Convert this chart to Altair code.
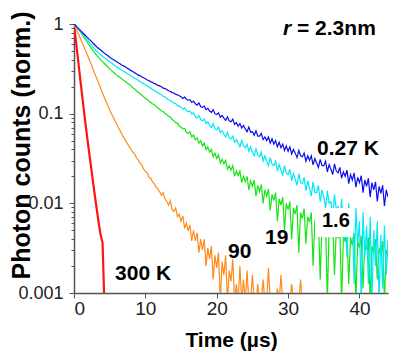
import altair as alt
import pandas as pd

# Sampling step of the decay traces (µs)
STEP = 0.25

# log10 of normalized photon counts (one value per 0.25 µs)
LOG_027K = [
    0, -.02, -.04, -.06, -.08, -.10, -.12, -.14, -.16, -.18, -.20, -.22,
    -.24, -.26, -.275, -.29, -.31, -.325, -.34, -.355, -.37, -.385, -.395, -.41,
    -.42, -.435, -.445, -.46, -.47, -.48, -.495, -.505, -.52, -.53, -.545, -.555,
    -.57, -.575, -.59, -.60, -.61, -.625, -.63, -.645, -.65, -.665, -.67, -.685,
    -.69, -.70, -.715, -.72, -.73, -.745, -.75, -.765, -.77, -.785, -.79, -.80,
    -.81, -.83, -.815, -.84, -.85, -.845, -.875, -.86, -.89, -.905, -.88, -.92,
    -.93, -.915, -.955, -.94, -.97, -.985, -.955, -1.0, -1.01, -.99, -1.04, -1.02,
    -1.05, -1.075, -1.035, -1.08, -1.09, -1.06, -1.12, -1.10, -1.14, -1.11, -1.16, -1.13,
    -1.17, -1.20, -1.15, -1.21, -1.20, -1.24, -1.19, -1.25, -1.25, -1.22, -1.29, -1.26,
    -1.30, -1.26, -1.33, -1.28, -1.34, -1.30, -1.37, -1.32, -1.38, -1.34, -1.41, -1.36,
    -1.42, -1.37, -1.45, -1.40, -1.44, -1.49, -1.41, -1.47, -1.48, -1.44, -1.53, -1.47,
    -1.52, -1.47, -1.57, -1.50, -1.55, -1.60, -1.51, -1.58, -1.58, -1.53, -1.65, -1.57,
    -1.62, -1.68, -1.56, -1.64, -1.66, -1.60, -1.72, -1.65, -1.70, -1.63, -1.78, -1.68,
    -1.74, -1.66, -1.82, -1.71, -1.77, -1.69, -1.88, -1.74, -1.81, -1.72, -1.93, -1.77,
    -1.85, -1.76, -1.98, -1.81, -1.89, -1.80, -2.03, -1.85, -1.93,
]
LOG_16K = [
    0, -.02, -.045, -.07, -.09, -.115, -.14, -.165, -.19, -.215, -.24, -.265,
    -.29, -.31, -.325, -.345, -.36, -.375, -.39, -.405, -.42, -.435, -.45, -.465,
    -.48, -.49, -.505, -.515, -.53, -.54, -.555, -.565, -.58, -.59, -.605, -.615,
    -.63, -.64, -.655, -.665, -.68, -.69, -.705, -.715, -.73, -.74, -.755, -.765,
    -.78, -.79, -.805, -.815, -.83, -.845, -.85, -.87, -.88, -.89, -.91, -.915,
    -.93, -.95, -.935, -.965, -.98, -.97, -1.005, -.99, -1.03, -1.05, -1.02, -1.065,
    -1.08, -1.06, -1.11, -1.09, -1.13, -1.155, -1.11, -1.17, -1.18, -1.15, -1.21, -1.19,
    -1.23, -1.26, -1.21, -1.27, -1.28, -1.25, -1.32, -1.29, -1.33, -1.37, -1.30, -1.36,
    -1.38, -1.34, -1.42, -1.37, -1.43, -1.47, -1.39, -1.46, -1.48, -1.43, -1.53, -1.47,
    -1.53, -1.58, -1.49, -1.56, -1.58, -1.53, -1.64, -1.57, -1.63, -1.69, -1.58, -1.66,
    -1.68, -1.62, -1.75, -1.67, -1.73, -1.80, -1.67, -1.77, -1.78, -1.71, -1.86, -1.75,
    -1.83, -1.92, -1.76, -1.88, -1.88, -1.80, -1.98, -1.85, -1.93, -2.05, -1.86, -2.00,
    -1.98, -2.15, -1.90, -2.08, -2.03, -2.25, -1.95, -2.40, -2.08, -2.6, -2.0, -2.3,
    -2.13, -2.9, -2.05, -2.45, -2.2, -3.1, -2.1, -2.6, -2.25, -2.9, -2.15, -3.1,
    -2.3, -2.7, -2.2, -3.1, -2.35, -2.95, -2.25, -2.8, -2.4,
]
LOG_19K = [
    0, -.025, -.05, -.075, -.10, -.13, -.16, -.19, -.22, -.25, -.28, -.305,
    -.33, -.355, -.375, -.40, -.42, -.44, -.46, -.48, -.50, -.52, -.535, -.555,
    -.57, -.585, -.60, -.615, -.63, -.645, -.66, -.675, -.69, -.71, -.725, -.745,
    -.76, -.775, -.795, -.81, -.83, -.84, -.86, -.875, -.89, -.90, -.92, -.935,
    -.95, -.97, -.975, -1.0, -1.01, -1.03, -1.04, -1.065, -1.08, -1.10, -1.105, -1.14,
    -1.15, -1.17, -1.165, -1.21, -1.22, -1.20, -1.26, -1.24, -1.29, -1.27, -1.33, -1.30,
    -1.36, -1.33, -1.40, -1.37, -1.43, -1.40, -1.48, -1.44, -1.50, -1.46, -1.55, -1.51,
    -1.56, -1.52, -1.62, -1.58, -1.63, -1.58, -1.70, -1.64, -1.69, -1.64, -1.77, -1.70,
    -1.76, -1.70, -1.85, -1.75, -1.81, -1.74, -1.92, -1.80, -1.87, -1.79, -2.00, -1.85,
    -1.92, -1.84, -2.08, -1.90, -1.97, -1.88, -2.20, -1.95, -2.02, -1.93, -2.30, -2.00,
    -2.07, -1.98, -2.40, -2.05, -2.12, -2.02, -2.55, -2.10, -2.17, -2.06, -2.45, -2.15,
    -2.21, -2.10, -2.70, -2.18, -2.26, -2.14, -2.85, -2.22, -2.30, -2.18, -3.1, -2.26,
    -2.35, -2.22, -2.8, -2.30, -2.39, -2.26, -3.1, -2.35, -2.43, -2.30, -2.9, -2.38,
    -2.47, -2.33, -3.1, -2.42, -2.50, -2.36, -2.95, -2.45, -2.52, -2.38, -3.1, -2.48,
    -2.55, -2.40, -2.85, -2.50, -2.58, -2.42, -3.1, -2.52, -2.60,
]
LOG_90K = [
    0, -.045, -.09, -.135, -.18, -.23, -.275, -.32, -.37, -.42, -.47, -.52,
    -.57, -.62, -.67, -.72, -.77, -.82, -.865, -.91, -.96, -1.0, -1.04, -1.08,
    -1.12, -1.16, -1.195, -1.235, -1.27, -1.305, -1.335, -1.37, -1.40, -1.43, -1.45, -1.49,
    -1.52, -1.55, -1.57, -1.62, -1.64, -1.66, -1.71, -1.72, -1.76, -1.78, -1.82, -1.84,
    -1.87, -1.91, -1.88, -1.95, -1.98, -2.02, -1.97, -2.07, -2.09, -2.05, -2.15, -2.12,
    -2.20, -2.14, -2.28, -2.22, -2.31, -2.24, -2.42, -2.30, -2.42, -2.33, -2.55, -2.40,
    -2.52, -2.40, -2.70, -2.50, -2.62, -2.48, -2.85, -2.58, -2.72, -2.55, -3.1, -2.65,
    -2.80, -2.58, -3.1, -2.75, -2.87, -2.62, -3.1, -2.90, -3.1, -2.7, -3.1, -2.85,
    -3.1, -2.75, -3.1, -3.1, -2.8, -3.1, -3.1, -2.9, -3.1, -3.1, -2.85, -3.1,
    -3.1, -2.72, -3.1, -3.1, -3.1, -3.1, -2.95, -3.1, -2.8, -3.1, -3.1, -3.1,
    -3.1, -3.1, -2.9, -3.1, -3.1, -3.1, -3.1, -2.85, -3.1,
]
LOG_300K = [
    0, -.175, -.35, -.525, -.70, -.87, -1.04, -1.2, -1.36, -1.51, -1.66, -1.81,
    -1.96, -2.1, -2.24, -2.36, -2.44, -3.1,
]

# series drawn bottom to top
SERIES = [
    ("300 K", LOG_300K, "#ff1414", 2.2),
    ("90 K", LOG_90K, "#ff8a1c", 1.2),
    ("19 K", LOG_19K, "#14e614", 1.2),
    ("1.6 K", LOG_16K, "#00e8f8", 1.2),
    ("0.27 K", LOG_027K, "#0c0cf0", 1.2),
]

X_TICKS = [0, 5, 10, 15, 20, 25, 30, 35, 40]
Y_TICKS = [d * m for d in (0.001, 0.01, 0.1) for m in range(1, 10)] + [1]

LABELS = [("0.27 K", 34.05, 0.0346), ("1.6", 34.75, 0.00545), ("19", 26.77, 0.00352),
          ("90", 21.58, 0.00246), ("300 K", 5.75, 0.0014)]

FONT = "Liberation Sans"
MAJOR_Y = "datum.value == 1 || datum.value == 0.1 || datum.value == 0.01 || datum.value == 0.001"

xscale = alt.Scale(domain=[0, 44], nice=False, zero=False, padding=0)
yscale = alt.Scale(type="log", domain=[0.001, 1], nice=False, padding=0)

xaxis = alt.Axis(
    values=X_TICKS, title="Time (µs)", grid=False,
    labelExpr="datum.value % 10 === 0 ? datum.label : ''", labelOverlap=False,
    tickSize={"condition": {"test": "datum.value % 10 === 0", "value": 5}, "value": 3},
    labelFontSize=19, labelPadding=1,
    titleFontSize=21, titleFontWeight="bold", titleBaseline="alphabetic", titleY=53,
)
yaxis = alt.Axis(
    values=Y_TICKS, title="Photon counts (norm.)", grid=False,
    labelExpr=f"({MAJOR_Y}) ? format(datum.value, '~g') : ''", labelOverlap=False,
    tickSize={"condition": {"test": MAJOR_Y, "value": 5}, "value": 3},
    labelFontSize=18, labelPadding=6,
    titleFontSize=25, titleFontWeight="bold", titleAngle=270,
    titleBaseline="alphabetic", titleAlign="center", titleX=-45, titleY=121,
)

# axes drawn from an invisible base layer so later layers only share the scales
base = alt.Chart(pd.DataFrame({"t": [0.0], "counts": [1.0]})).mark_point(opacity=0).encode(
    x=alt.X("t:Q", scale=xscale, axis=xaxis),
    y=alt.Y("counts:Q", scale=yscale, axis=yaxis),
)
layers = [base]
for name, vals, color, sw in SERIES:
    df = pd.DataFrame({"t": [k * STEP for k in range(len(vals))],
                       "counts": [10 ** v for v in vals]})
    layers.append(
        alt.Chart(df).mark_line(color=color, strokeWidth=sw, clip=True).encode(
            x=alt.X("t:Q", scale=xscale), y=alt.Y("counts:Q", scale=yscale))
    )

# white box behind the "1.6" label
box = alt.Chart(pd.DataFrame({"a": [0]})).mark_rect(color="white").encode(
    x=alt.datum(33.77), x2=alt.datum(39.10), y=alt.datum(0.00887), y2=alt.datum(0.00421))
layers.append(box)

for text, xv, yv in LABELS:
    layers.append(
        alt.Chart(pd.DataFrame({"label": [text]})).mark_text(
            font=FONT, fontSize=20 if text == "1.6" else 21, fontWeight="bold",
            align="left", baseline="alphabetic", color="black",
        ).encode(x=alt.datum(xv), y=alt.datum(yv), text="label:N")
    )

layers.append(alt.Chart(pd.DataFrame({"label": ["r"]})).mark_text(
    font=FONT, fontSize=21, fontWeight="bold", fontStyle="italic",
    align="left", baseline="alphabetic", color="black",
).encode(x=alt.datum(29.29), y=alt.datum(0.754), text="label:N"))
layers.append(alt.Chart(pd.DataFrame({"label": ["= 2.3nm"]})).mark_text(
    font=FONT, fontSize=21, fontWeight="bold",
    align="left", baseline="alphabetic", color="black",
).encode(x=alt.datum(31.25), y=alt.datum(0.754), text="label:N"))

# total width kept at 386 px so the page's flex container does not shrink the svg
chart = alt.layer(*layers).properties(
    width=314, height=269,
    autosize=alt.AutoSizeParams(type="none"),
    padding={"left": 66, "top": 16, "right": 6, "bottom": 58},
    background="white",
).configure_view(stroke=None).configure_axis(
    domainColor="#555", domainWidth=1.5, tickColor="#555", tickWidth=1,
    labelFont=FONT, labelColor="#222", titleFont=FONT, titleColor="black",
)

chart.save("out.html", embed_options={"renderer": "svg", "actions": False})
